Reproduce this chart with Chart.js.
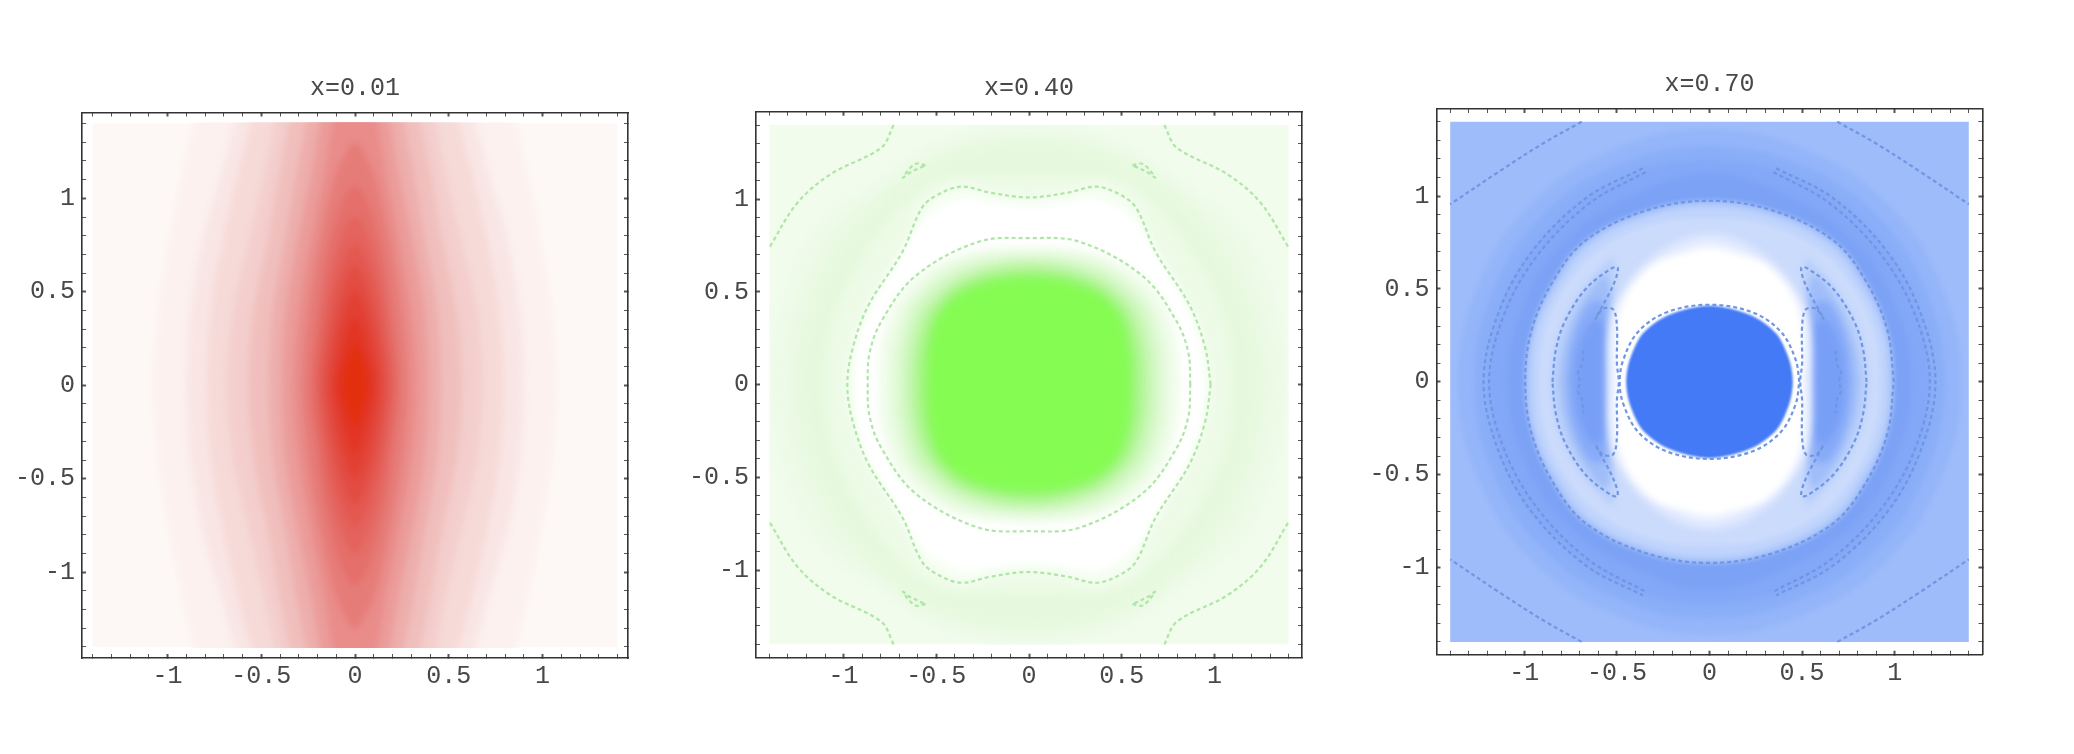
<!DOCTYPE html>
<html><head><meta charset="utf-8">
<style>html,body{margin:0;padding:0;background:#fff;width:2074px;height:754px;overflow:hidden}
canvas{position:absolute;top:0}</style>
<script src="https://cdn.jsdelivr.net/npm/chart.js@4/dist/chart.umd.min.js"></script>
</head><body>
<canvas id="c1" width="710" height="754" style="left:0"></canvas>
<canvas id="c2" width="738" height="754" style="left:660px"></canvas>
<canvas id="c3" width="729" height="754" style="left:1345px"></canvas>
<script>
const titles = ['x=0.01','x=0.40','x=0.70'];
const tickValues = [-1,-0.5,0,0.5,1];
const tickLabels = ['-1','-0.5','0','0.5','1'];
const imageEdge = [[1.4,0],[1.4,1.4]];
const IMAGE_LIMIT = 1.405;

/* Panel 1: nested level contours, first quadrant [x,y] */
const redLevels = [
 imageEdge,
 [[1.08,0],[1.06,.3],[1.04,.5],[.95,1],[.85,1.46]],
 [[.90,0],[.88,.4],[.81,.8],[.71,1.15],[.63,1.46]],
 [[.79,0],[.77,.4],[.70,.8],[.62,1.15],[.54,1.46]],
 [[.68,0],[.65,.4],[.56,.8],[.48,1.15],[.42,1.46]],
 [[.57,0],[.54,.4],[.46,.8],[.40,1.15],[.34,1.46]],
 [[.46,0],[.44,.4],[.37,.8],[.31,1.15],[.25,1.46]],
 [[.39,0],[.37,.4],[.30,.8],[.23,1.15],[.18,1.46]],
 [[.33,0],[.30,.4],[.23,.8],[.16,1.15],[.11,1.46]],
 [[.28,0],[.25,.4],[.18,.8],[.11,1.1],[.06,1.22],[0,1.3]],
 [[.24,0],[.21,.3],[.16,.65],[.08,.95],[0,1.07]],
 [[.21,0],[.18,.3],[.13,.6],[.06,.82],[0,.9]],
 [[.185,0],[.15,.3],[.10,.55],[0,.755]],
 [[.16,0],[.13,.25],[.08,.47],[0,.635]],
 [[.13,0],[.105,.2],[.06,.38],[0,.5]],
 [[.10,0],[.075,.15],[0,.36]],
 [[.07,0],[.045,.12],[0,.22]]
];
const redColors = ['#fdf8f6','#fcf1ef','#f9e6e4','#f6dad8','#f3cecc','#f0bfbd','#edaeac','#eb9c9a','#e98c8a','#e67c78','#e56f6a','#e4635d','#e35850','#e24c42','#e24033','#e23525','#e2300f'];

/* Panel 2 */
const greenOuterDash = [[.98,0],[.95,.2],[.865,.43],[.683,.716],[.58,.95],[.50,1.02],[.365,1.068],[.207,1.035],[0,1.01]];
const greenInnerDash = [[.87,0],[.86,.17],[.797,.34],[.615,.584],[.275,.77],[0,.79]];
const greenCornerDash = [[.73,1.4],[.797,1.278],[1.07,1.135],[1.25,.98],[1.4,.74]];
const greenIsland = [[.558,1.183],[.615,1.19],[.68,1.117],[.638,1.146],[.558,1.183]];
const greenLevels = [
 imageEdge,
 [[1.36,0],[1.32,.4],[1.12,.85],[.8,1.08],[.45,1.3],[0,1.38]],
 [[1.25,0],[1.2,.4],[1.0,.8],[.7,1.1],[.35,1.28],[0,1.32]],
 [[1.09,0],[1.05,.35],[.85,.75],[.62,1.02],[.42,1.12],[.2,1.12],[0,1.12]],
 greenOuterDash,
 [[.94,0],[.9,.3],[.72,.65],[.55,.90],[.36,1.0],[.2,.98],[0,.96]],
 [[.82,0],[.80,.25],[.70,.5],[.42,.69],[0,.75]],
 [[.77,0],[.75,.25],[.65,.48],[.39,.67],[0,.72]],
 [[.72,0],[.70,.24],[.61,.46],[.37,.64],[0,.69]],
 [[.68,0],[.66,.24],[.58,.44],[.35,.61],[0,.67]],
 [[.64,0],[.62,.23],[.54,.42],[.34,.58],[0,.65]],
 [[.61,0],[.59,.23],[.52,.41],[.33,.56],[0,.62]],
 [[.58,0],[.56,.23],[.49,.40],[.32,.54],[0,.60]],
 [[.55,0],[.535,.22],[.47,.39],[.31,.52],[0,.58]],
 [[.53,0],[.515,.22],[.46,.39],[.30,.51],[0,.56]]
];
const greenColors = ['#f1fced','#ecfae6','#e6f9de','#edfbe7','#f7fef4','#ffffff','#f4fdf0','#e9fbe1','#dcf9d0','#cdf7bc','#bdf6a6','#aef691','#9ef77c','#8ff866','#85fc52'];

/* Panel 3 */
const blueRingDash = [[.995,0],[.96,.28],[.84,.55],[.67,.76],[.35,.92],[0,.975]];
const blueCoreDash = [[.485,0],[.465,.12],[.385,.27],[.23,.375],[0,.415]];
const blueCore = [[.45,0],[.43,.12],[.36,.26],[.22,.36],[0,.41]];
const blueLevels = [
 imageEdge,
 [[1.36,0],[1.25,.52],[.96,.96],[.52,1.25],[0,1.36]],
 [[1.27,0],[1.17,.49],[.9,.9],[.49,1.17],[0,1.27]],
 [[1.19,0],[1.1,.46],[.84,.84],[.46,1.1],[0,1.19]],
 [[1.09,0],[1.0,.42],[.77,.77],[.42,1.0],[0,1.12]],
 blueRingDash,
 [[.96,0],[.93,.28],[.81,.53],[.64,.74],[.33,.89],[0,.94]],
 [[.92,0],[.89,.27],[.78,.51],[.6,.71],[.3,.85],[0,.88]]
];
const blueColors = ['#9ebcfa','#94b5f9','#8aaef8','#82a8f7','#7ca2f6','#aec8fb','#c0d4fc','#cbdbfc'];
const blueCrescents = [
 [[.86,0],[.83,.2],[.74,.42],[.6,.6],[.52,.66],[.52,.4],[.54,0]],
 [[.81,0],[.78,.2],[.69,.42],[.56,.57],[.53,.3],[.55,0]],
 [[.77,0],[.74,.22],[.65,.42],[.57,.42],[.56,0]],
 [[.73,0],[.71,.18],[.63,.33],[.575,.3],[.575,0]]
];
const blueCrescentColors = ['#b8cffb','#a0bdf9','#87abf8','#789ff6'];
const blueGlow = [
 [[.55,0],[.55,.25],[.51,.42],[.38,.62],[.18,.76],[0,.80]],
 [[.525,0],[.525,.25],[.49,.42],[.35,.60],[.16,.72],[0,.76]],
 [[.505,0],[.50,.3],[.44,.48],[.30,.635],[.14,.69],[0,.72]]
];
const blueGlowColors = ['#dce6fe','#eaf0ff','#ffffff'];
const blueCornerDash = [[.69,1.4],[.893,1.287],[1.12,1.143],[1.4,.956]];
const blueArcOuter = [[.36,1.15],[.666,.99],[.96,.70],[1.14,.37],[1.22,0]];
const blueArcInner = [[.345,1.13],[.65,.96],[.93,.68],[1.11,.36],[1.19,0]];
const blueCrescentDash = [[.848,0],[.83,.17],[.78,.327],[.666,.503],[.53,.61],[.495,.614],[.52,.52],[.615,.34],[.575,.393],[.52,.39],[.5,.3],[.5,.1],[.49,0]];
const blueSliver = [[.68,.17],[.69,.09],[.71,.05],[.70,0]];

const P = ([x,y]) => ({x,y});
function loopPts(q){
  const out=[], add=(x,y)=>{ out.push({x,y}); if(Math.abs(y)>=1.4) out.push({x,y}); };
  q.forEach(([x,y])=>add(x,y));
  [...q].reverse().forEach(([x,y])=>{ if(x!==0&&y!==0) add(-x,y); });
  add(-q[0][0],0);
  q.forEach(([x,y])=>{ if(y!==0) add(-x,-y); });
  [...q].reverse().forEach(([x,y])=>{ if(x!==0&&y!==0) add(x,-y); });
  return out;
}
/* closed curve; for fills the ends overlap so the seam stays smooth */
function loopFill(q){ const o=loopPts(q); return [o[o.length-1],...o,o[0],o[1]]; }
function loopLine(q){ const o=loopPts(q); return [...o,o[0]]; }
const sx=(pts,s)=>pts.map(p=>({x:p.x*s,y:p.y}));
const sy=(pts,s)=>pts.map(p=>({x:p.x,y:p.y*s}));
function yLoop(list){
  const up=list.map(P), dn=up.slice(1,-1).reverse().map(p=>({x:p.x,y:-p.y}));
  return [...up,...dn,up[0]];
}
/* open curve ending on y=0, continued through its mirror image */
function yArc(list){
  const up=list.map(P), dn=up.slice(0,-1).reverse().map(p=>({x:p.x,y:-p.y}));
  return [...up,...dn];
}
const fills=(levels,colors,t,blur)=>levels.map((q,i)=>({data:loopFill(q),backgroundColor:colors[i],fill:'shape',borderWidth:0,tension:q===imageEdge?0:t,blurPx:q===imageEdge?0:blur}));
const area=(pts,color,blur)=>({data:pts,backgroundColor:color,fill:'shape',borderWidth:0,tension:.35,blurPx:blur});
const dash=(pts,color)=>({data:pts,borderColor:color,borderWidth:2.2,borderDash:[4,3],fill:false,tension:.35,blurPx:.4});
const four=(q,color)=>{const a=q.map(P);return [[1,1],[-1,1],[1,-1],[-1,-1]].map(([s,t])=>dash(sy(sx(a,s),t),color));};
const both=(pts,color)=>[dash(pts,color),dash(sx(pts,-1),color)];

const GD='#aee6a6', BD='#7096e2';
const d1=fills(redLevels,redColors,.35,3);
const d2=[...fills(greenLevels.slice(0,5),greenColors.slice(0,5),.35,7),
  ...fills(greenLevels.slice(5),greenColors.slice(5),.35,4.5),
  dash(loopLine(greenOuterDash),GD),dash(loopLine(greenInnerDash),GD),
  ...four(greenCornerDash,GD),...four(greenIsland,GD)];
const crescents=[];
blueCrescents.forEach((c,i)=>{crescents.push(area(yLoop(c),blueCrescentColors[i],3),area(sx(yLoop(c),-1),blueCrescentColors[i],3));});
const d3=[...fills(blueLevels,blueColors,.4,2.5),...crescents,...fills(blueGlow,blueGlowColors,.35,3.5),
  ...fills([blueCore],['#447af5'],.3,1),
  ...four(blueCornerDash,BD),...both(yArc(blueArcOuter),BD),...both(yArc(blueArcInner),BD),
  dash(loopLine(blueRingDash),BD),dash(loopLine(blueCoreDash),BD),
  ...both(yLoop(blueCrescentDash),BD),...both(yArc(blueSliver),BD)];

/* softens the level bands the way the density plot's shading does, and keeps them inside the image square */
const softBands={id:'softBands',
  beforeDatasetsDraw(ch){
    const c=ch.ctx,X=ch.scales.x,Y=ch.scales.y;
    c.save();c.beginPath();
    const l=X.getPixelForValue(-IMAGE_LIMIT),r=X.getPixelForValue(IMAGE_LIMIT),t=Y.getPixelForValue(IMAGE_LIMIT),b=Y.getPixelForValue(-IMAGE_LIMIT);
    c.rect(l,t,r-l,b-t);c.clip();
    const f=ch.data.datasets[0].blurPx;c.filter=f?`blur(${f}px)`:'none';
  },
  afterDatasetDraw(ch,a){const n=ch.data.datasets[a.index+1];const f=n?n.blurPx:0;ch.ctx.filter=f?`blur(${f}px)`:'none';},
  afterDatasetsDraw(ch){ch.ctx.filter='none';ch.ctx.restore();}
};

const FONT={family:'"Liberation Mono",monospace',size:25,weight:'normal'};
const INK='#484848';
function axis(pos,lim,labels,fit){
  const horiz=pos==='bottom'||pos==='top';
  return {type:'linear',position:pos,min:-lim,max:lim,
    grid:{drawOnChartArea:false,drawTicks:true,tickLength:-4,z:1,tickColor:'#555',
      tickWidth:c=>{const v=c.tick?c.tick.value:0;return Math.abs(v*2-Math.round(v*2))<1e-6?2:1;}},
    border:{display:true,color:'#333',width:1.6,z:1},
    ticks:{display:labels,stepSize:.1,includeBounds:false,autoSkip:false,maxRotation:0,minRotation:0,
      font:FONT,color:INK,padding:horiz?7.5:11,
      callback:v=>{const k=tickValues.findIndex(t=>Math.abs(t-v)<1e-6);return k<0?'':tickLabels[k];}},
    afterFit:s=>{ if(horiz) s.height=fit; else s.width=fit; }
  };
}
function panel(id,title,data,box,xLim,yLim){
  const c=document.getElementById(id);
  const n=data.length;
  new Chart(c,{type:'scatter',plugins:[softBands],
    data:{datasets:data.map((d,i)=>({...d,showLine:true,pointRadius:0,pointHoverRadius:0,order:n-i,xAxisID:'x',yAxisID:'y'}))},
    options:{responsive:false,animation:false,events:[],layout:{padding:0},
      plugins:{legend:{display:false},tooltip:{enabled:false},
        title:{display:true,text:title,font:FONT,color:INK,padding:{top:box.titleY-15,bottom:box.top-box.titleY-15}}},
      scales:{
        x:axis('bottom',xLim,true,754-box.bottom),
        y:axis('left',yLim,true,box.left),
        xt:axis('top',xLim,false,0),
        yr:axis('right',yLim,false,c.width-box.right)
      }}});
}
panel('c1',titles[0],d1,{left:82,right:628,top:112.5,bottom:658,titleY:88},1.456,1.459);
panel('c2',titles[1],d2,{left:96,right:642,top:111.7,bottom:657.7,titleY:88},1.4725,1.472);
panel('c3',titles[2],d3,{left:91.5,right:637.5,top:109,bottom:654.7,titleY:84.5},1.474,1.469);
</script>
</body></html>
